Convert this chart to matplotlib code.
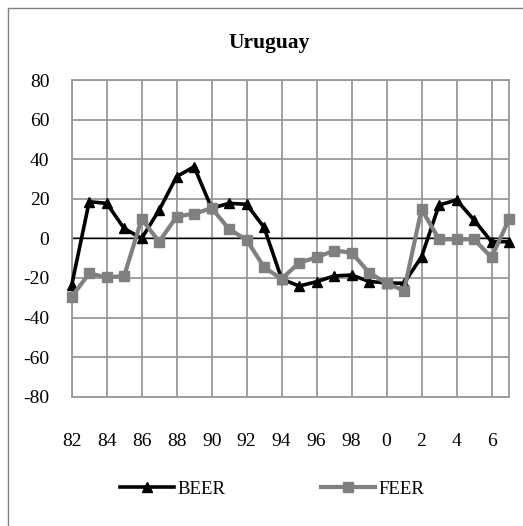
import matplotlib
matplotlib.use("Agg")
import matplotlib.pyplot as plt
from matplotlib.patches import Rectangle
from matplotlib.lines import Line2D

plt.rcParams['font.family'] = ['Liberation Serif', 'DejaVu Serif']

years = list(range(82, 108))
beer = [-23.6, 18.5, 17.7, 5.0, 0.0, 14.3, 31.2, 36.2, 15.2, 17.7, 17.2, 5.5, -20.5,
        -24.1, -21.9, -19.0, -18.5, -21.8, -22.5, -22.7, -9.3, 16.8, 19.4, 9.3, -1.7, -1.7]
feer = [-29.5, -17.7, -19.7, -19.0, 9.8, -1.7, 11.0, 12.5, 15.2, 4.7, -0.8, -14.6, -20.5,
        -12.3, -9.6, -6.2, -7.2, -17.3, -22.7, -26.4, 14.7, -0.5, -0.5, -0.5, -9.6, 9.6]
xtick_vals = list(range(82, 107, 2))
xtick_labels = ['82', '84', '86', '88', '90', '92', '94', '96', '98', '0', '2', '4', '6']
yticks = list(range(-80, 81, 20))

W, H = 523, 526
fig = plt.figure(figsize=(W / 100, H / 100), dpi=100)
fig.patches.append(Rectangle((8 / W, -0.1), 1.2, 1 - 8 / H + 0.1, transform=fig.transFigure,
                             fill=False, edgecolor='#808080', linewidth=1.0, zorder=0))

ax = fig.add_axes([71.7 / W, 1 - 396.7 / H, (509 - 71.7) / W, (396.7 - 80) / H])
ax.set_xlim(82, 107)
ax.set_ylim(-80, 80)
ax.set_xticks(xtick_vals)
ax.set_xticklabels(xtick_labels)
ax.set_yticks(yticks)
ax.set_yticklabels([str(v) for v in yticks])
ax.tick_params(axis='both', length=0, labelsize=14)
ax.tick_params(axis='x', pad=26)
ax.tick_params(axis='y', pad=16)
ax.grid(True, color='#999999', linewidth=1.3)
ax.set_axisbelow(True)
for s in ax.spines.values():
    s.set_color('#999999')
    s.set_linewidth(1.3)
ax.axhline(0, color='black', linewidth=1.0, zorder=1.5)

ax.plot(years, beer, color='black', linewidth=2.6, marker='^', markersize=7,
        markerfacecolor='black', markeredgecolor='black', clip_on=False, zorder=3)
ax.plot(years, feer, color='#808080', linewidth=3.0, marker='s', markersize=7,
        markerfacecolor='#808080', markeredgecolor='#808080', clip_on=False, zorder=4)

fig.text(269 / W, 1 - 43 / H, 'Uruguay', ha='center', va='center', fontsize=15.5, fontweight='bold')

h1 = Line2D([], [], color='black', linewidth=2.6, marker='^', markersize=7)
h2 = Line2D([], [], color='#808080', linewidth=3.0, marker='s', markersize=7)
for h, lab, x0 in [(h1, 'BEER', 120), (h2, 'FEER', 320.7)]:
    fig.legend([h], [lab], loc='center left', bbox_to_anchor=(x0 / W, 1 - 489 / H),
               frameon=False, fontsize=13.5, handlelength=2.88, handletextpad=0.2,
               borderpad=0, borderaxespad=0)

fig.savefig('out.png', dpi=100)
